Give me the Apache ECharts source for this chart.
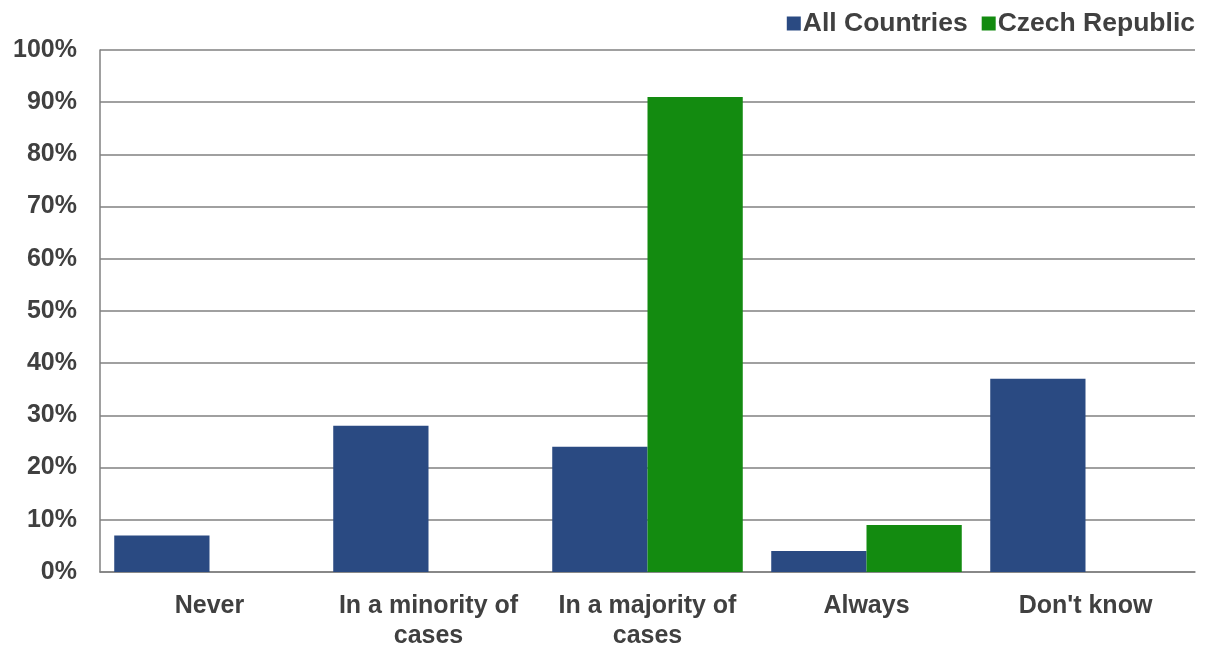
<!DOCTYPE html>
<html>
<head>
<meta charset="utf-8">
<script src="https://cdn.jsdelivr.net/npm/echarts@6/dist/echarts.min.js"></script>
<style>
  html, body { margin: 0; padding: 0; background: #fff; }
  #chart { width: 1210px; height: 647px; }
</style>
</head>
<body>
<div id="chart"></div>
<script>
const categories = ["Never", "In a minority of\ncases", "In a majority of\ncases", "Always", "Don't know"];
const allCountries = [7, 28, 24, 4, 37];
const czechRepublic = [0, 0, 91, 9, 0];

const textColor = "#404040";
const lineColor = "#808080";

const chart = echarts.init(document.getElementById("chart"));
chart.setOption({
  backgroundColor: "#fff",
  animation: false,
  textStyle: { fontFamily: "Liberation Sans, Arial, sans-serif" },
  legend: {
    data: ["All Countries", "Czech Republic"],
    top: 5,
    right: 10,
    itemWidth: 14,
    itemHeight: 14,
    itemGap: 14,
    icon: "rect",
    textStyle: { color: textColor, fontSize: 26.5, fontWeight: "bold", padding: [0, 0, 0, -3] },
  },
  grid: { left: 100, right: 15, top: 50, bottom: 75, outerBoundsMode: "none" },
  xAxis: {
    type: "category",
    data: categories,
    axisLine: { lineStyle: { color: lineColor, width: 1.5 } },
    axisTick: { show: false },
    axisLabel: { color: textColor, fontSize: 25, fontWeight: "bold", lineHeight: 30, margin: 19, interval: 0 },
  },
  yAxis: {
    type: "value",
    min: 0,
    max: 100,
    interval: 10,
    axisLine: { show: true, lineStyle: { color: lineColor, width: 1.5 } },
    axisTick: { show: false },
    axisLabel: { color: textColor, fontSize: 25, fontWeight: "bold", margin: 23, formatter: "{value}%" },
    splitLine: { lineStyle: { color: lineColor, width: 1.5 } },
  },
  series: [
    {
      name: "All Countries",
      type: "bar",
      data: allCountries,
      barWidth: "43.5%",
      barGap: "0%",
      itemStyle: { color: "#2A4A82" },
    },
    {
      name: "Czech Republic",
      type: "bar",
      data: czechRepublic,
      barWidth: "43.5%",
      itemStyle: { color: "#138B10" },
    },
  ],
});
</script>
</body>
</html>
